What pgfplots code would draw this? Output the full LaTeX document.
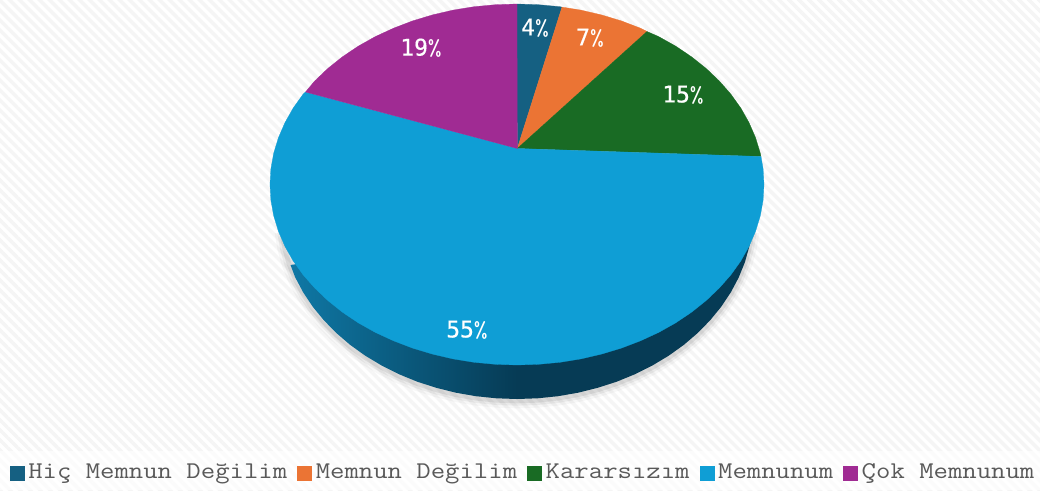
\documentclass[border=0pt]{standalone}
\usepackage{fontspec}
\setmainfont{Liberation Mono}
\newfontfamily\labelfont[FakeBold=0.35]{DejaVu Sans Mono}
\newfontfamily\legfont[FakeStretch=1.164]{Latin Modern Mono}
\usepackage{pgfplots}
\pgfplotsset{compat=1.18}
\usepackage{pgfplotstable}
\usetikzlibrary{patterns.meta}
\definecolor{sliceA}{HTML}{156082}
\definecolor{sliceB}{HTML}{EB7434}
\definecolor{sliceC}{HTML}{196B24}
\definecolor{sliceD}{HTML}{0F9ED5}
\definecolor{sliceE}{HTML}{A02B93}
\definecolor{sideDark}{HTML}{063B55}
\definecolor{sideLight}{HTML}{0F78A5}
\definecolor{stripe}{HTML}{F5F5F5}
\definecolor{legtext}{HTML}{595959}

% outer rim of the lower face, in picture pixels
\pgfplotstableread{
x y
752.1 230.1
749.4 246.1
745.0 261.9
738.8 277.3
730.9 292.2
721.4 306.5
710.3 320.1
697.8 332.9
683.9 344.8
668.7 355.7
652.4 365.5
635.0 374.2
616.7 381.7
597.7 387.8
578.1 392.7
558.0 396.2
537.6 398.3
517.0 399.0
496.4 398.3
476.0 396.2
455.9 392.7
436.3 387.8
417.3 381.7
399.0 374.2
381.6 365.5
365.3 355.7
350.1 344.8
336.2 332.9
323.7 320.1
312.6 306.5
303.1 292.2
295.2 277.3
289.0 261.9
284.6 246.1
281.9 230.1
}\rim

\begin{document}
\begin{tikzpicture}
\begin{axis}[
  scale only axis, width=780pt, height=367.5pt,
  xmin=0, xmax=1040, ymin=0, ymax=490, y dir=reverse,
  hide axis,
  legend columns=-1,
  legend style={at={(axis cs:10,472)}, anchor=west, draw=none, fill=none,
    inner sep=0pt, outer sep=0pt,
    font=\legfont\fontsize{18pt}{18pt}\selectfont, text=legtext,
    nodes={inner sep=0pt, outer sep=0pt},
    /tikz/every even column/.append style={column sep=7.7pt},
    /tikz/every odd column/.append style={column sep=3pt}},
  legend image code/.code={\path[#1] (0pt,-6pt) rectangle (10.5pt,4.5pt);},
]
% background
\addplot[forget plot, draw=none, fill=white] coordinates {(0,0) (1040,0) (1040,490) (0,490)} --cycle;
\addplot[forget plot, draw=none, pattern={Lines[angle=-45,distance=5.3pt,line width=2.6pt]}, pattern color=stripe]
  coordinates {(0,0) (1040,0) (1040,490) (0,490)} --cycle;
\addplot[forget plot, draw=none, fill=white, fill opacity=0.65]
  coordinates {(0,451) (1040,451) (1040,490) (0,490)} --cycle;

% soft shadow under the rim
\addplot[forget plot, draw=black, opacity=0.03, line width=11pt, yshift=-1.5pt] table {\rim};
\addplot[forget plot, draw=black, opacity=0.05, line width=7pt, yshift=-1.5pt] table {\rim};
\addplot[forget plot, draw=black, opacity=0.07, line width=3.5pt, yshift=-1.5pt] table {\rim};

% side wall
\addplot[forget plot, draw=none, fill=sideDark] coordinates {
  (510,230) (752.1,230.1) (749.4,246.1) (745.0,261.9) (738.8,277.3) (730.9,292.2) (721.4,306.5)
  (710.3,320.1) (697.8,332.9) (683.9,344.8) (668.7,355.7) (652.4,365.5) (635.0,374.2) (616.7,381.7)
  (597.7,387.8) (578.1,392.7) (558.0,396.2) (537.6,398.3) (517.0,399.0) (510,398.8)} --cycle;
\addplot[forget plot, draw=none, left color=sideLight, right color=sideDark] coordinates {
  (517,399) (496.4,398.3) (476.0,396.2) (455.9,392.7) (436.3,387.8) (417.3,381.7) (399.0,374.2)
  (381.6,365.5) (365.3,355.7) (350.1,344.8) (336.2,332.9) (323.7,320.1) (312.6,306.5) (303.1,292.2)
  (295.2,277.3) (290.5,265) (517,230)} --cycle;

% top face
\addplot[fill=sliceA, draw=sliceA, line width=0.2pt] coordinates {
  (517.3,148.5) (517,4) (538.5,4.7) (559.9,6.7) (562,7.1)} --cycle;
\addlegendentry{Hiç Memnun Değilim}
\addplot[fill=sliceB, draw=sliceB, line width=0.2pt] coordinates {
  (517.3,148.5) (562,7.1) (580.9,10.1) (601.5,14.9) (621.4,20.9) (640.5,28.2) (647,31.5)} --cycle;
\addlegendentry{Memnun Değilim}
\addplot[fill=sliceC, draw=sliceC, line width=0.2pt] coordinates {
  (517.3,148.5) (647,31.5) (658.7,36.6) (675.8,46.2) (691.7,56.9) (706.2,68.5) (719.3,81.0)
  (730.9,94.2) (740.9,108.2) (749.1,122.8) (755.6,137.8) (760.3,153.2) (761,156.5)} --cycle;
\addlegendentry{Kararsızım}
\addplot[fill=sliceD, draw=sliceD, line width=0.2pt] coordinates {
  (517.3,148.5) (761,156.5) (763.1,168.8) (764,184.5) (763.1,200.2) (760.3,215.8) (755.6,231.2)
  (749.1,246.2) (740.9,260.8) (730.9,274.8) (719.3,288.0) (706.2,300.5) (691.7,312.1) (675.8,322.8)
  (658.7,332.4) (640.5,340.8) (621.4,348.1) (601.5,354.1) (580.9,358.9) (559.9,362.3) (538.5,364.3)
  (517,365) (495.5,364.3) (474.1,362.3) (453.1,358.9) (432.5,354.1) (412.6,348.1) (393.5,340.8)
  (375.3,332.4) (358.2,322.8) (342.3,312.1) (327.8,300.5) (314.7,288.0) (303.1,274.8) (293.1,260.8)
  (284.9,246.2) (278.4,231.2) (273.7,215.8) (270.9,200.2) (270,184.5) (270.9,168.8) (273.7,153.2)
  (278.4,137.8) (284.9,122.8) (293.1,108.2) (303.1,94.2) (305.5,92)} --cycle;
\addlegendentry{Memnunum}
\addplot[fill=sliceE, draw=sliceE, line width=0.2pt] coordinates {
  (517.3,148.5) (305.5,92) (314.7,81.0) (327.8,68.5) (342.3,56.9) (358.2,46.2) (375.3,36.6)
  (393.5,28.2) (412.6,20.9) (432.5,14.9) (453.1,10.1) (474.1,6.7) (495.5,4.7) (517,4)} --cycle;
\addlegendentry{Çok Memnunum}

% percentage labels
\tikzset{pct/.style={text=white, font=\labelfont\fontsize{17.25pt}{17.25pt}\selectfont, inner sep=0pt}}
\node[pct] at (axis cs:535,28) {4{\legfont\%}};
\node[pct] at (axis cs:590,38) {7{\legfont\%}};
\node[pct] at (axis cs:683,95) {15{\legfont\%}};
\node[pct] at (axis cs:421,48) {19{\legfont\%}};
\node[pct] at (axis cs:467,330) {55{\legfont\%}};
\end{axis}
\end{tikzpicture}
\end{document}
